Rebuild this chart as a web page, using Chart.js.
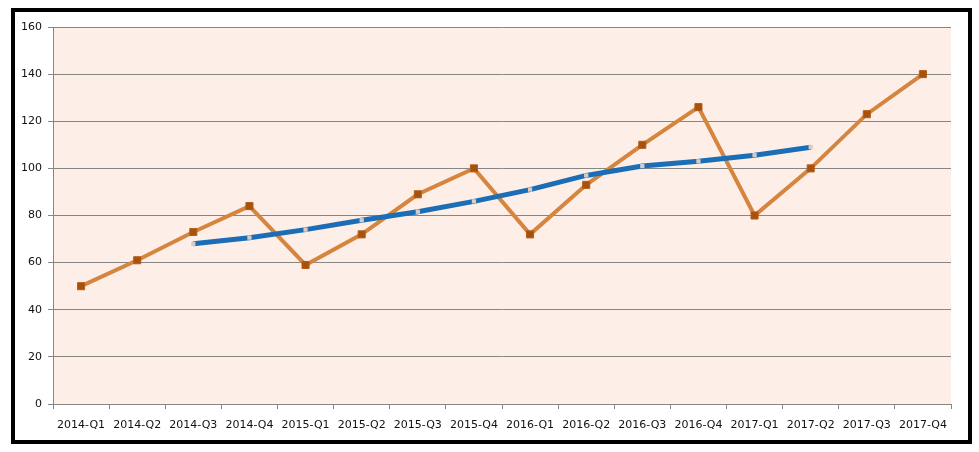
<!DOCTYPE html>
<html>
<head>
<meta charset="utf-8">
<script src="https://cdn.jsdelivr.net/npm/chart.js@4/dist/chart.umd.min.js"></script>
<style>
html,body{margin:0;padding:0;background:#fff;}
#wrap{width:979px;height:452px;position:relative;}
</style>
</head>
<body>
<div id="wrap"><canvas id="c" width="979" height="452"></canvas></div>
<script>
const categories = ["2014-Q1","2014-Q2","2014-Q3","2014-Q4","2015-Q1","2015-Q2","2015-Q3","2015-Q4","2016-Q1","2016-Q2","2016-Q3","2016-Q4","2017-Q1","2017-Q2","2017-Q3","2017-Q4"];
const salesValues = [50,61,73,84,59,72,89,100,72,93,110,126,80,100,123,140];
const movingAverage = [null,null,68,70.6,74,78,81.6,86,91,97,101,103,105.6,109,null,null];
const yTicks = [0,20,40,60,80,100,120,140,160];

const bgPlugin = {
  id: 'bg',
  beforeDraw(chart) {
    const {ctx, chartArea: a} = chart;
    ctx.save();
    ctx.fillStyle = '#ffffff';
    ctx.fillRect(0, 0, chart.width, chart.height);
    ctx.fillStyle = '#fdeee8';
    ctx.fillRect(a.left, a.top, a.right - a.left, a.bottom - a.top);
    ctx.restore();
  },
  afterDraw(chart) {
    const ctx = chart.ctx;
    ctx.save();
    ctx.fillStyle = '#000';
    ctx.fillRect(11, 8, 4, 436);
    ctx.fillRect(968, 8, 4, 436);
    ctx.fillRect(11, 8, 961, 4);
    ctx.fillRect(11, 440, 961, 4);
    ctx.restore();
  }
};

new Chart(document.getElementById('c'), {
  type: 'line',
  data: {
    labels: categories,
    datasets: [
      {
        label: 'Moving average',
        data: movingAverage,
        borderColor: '#1b6db5',
        borderWidth: 5,
        pointStyle: 'rect',
        pointRadius: 3,
        pointBackgroundColor: '#d9cbc5',
        pointBorderWidth: 0,
        spanGaps: false,
        tension: 0,
        order: 0
      },
      {
        label: 'Sales',
        data: salesValues,
        borderColor: '#d6853e',
        borderWidth: 4,
        pointStyle: 'rect',
        pointRadius: 5,
        pointBackgroundColor: '#a6520e',
        pointBorderColor: '#b45e17',
        pointBorderWidth: 1,
        tension: 0,
        order: 1
      }
    ]
  },
  options: {
    responsive: false,
    animation: false,
    layout: { padding: { left: 0, right: 28, top: 27, bottom: 0 } },
    plugins: { legend: { display: false }, tooltip: { enabled: false } },
    scales: {
      x: {
        offset: true,
        grid: { offset: true, drawOnChartArea: false, drawTicks: true, tickLength: 5, color: '#868686' },
        border: { color: '#868686', width: 1 },
        ticks: { color: '#111', font: { family: 'DejaVu Sans', size: 11 }, padding: 10, maxRotation: 0, autoSkip: false },
        afterFit(s) { s.height = 48; }
      },
      y: {
        min: 0, max: 160,
        afterBuildTicks(s) { s.ticks = yTicks.map(v => ({value: v})); },
        grid: { color: '#868686', tickLength: 5 },
        border: { color: '#868686', width: 1 },
        ticks: { color: '#111', font: { family: 'DejaVu Sans', size: 11 }, padding: 6 },
        afterFit(s) { s.width = 53; }
      }
    }
  },
  plugins: [bgPlugin]
});
</script>
</body>
</html>
